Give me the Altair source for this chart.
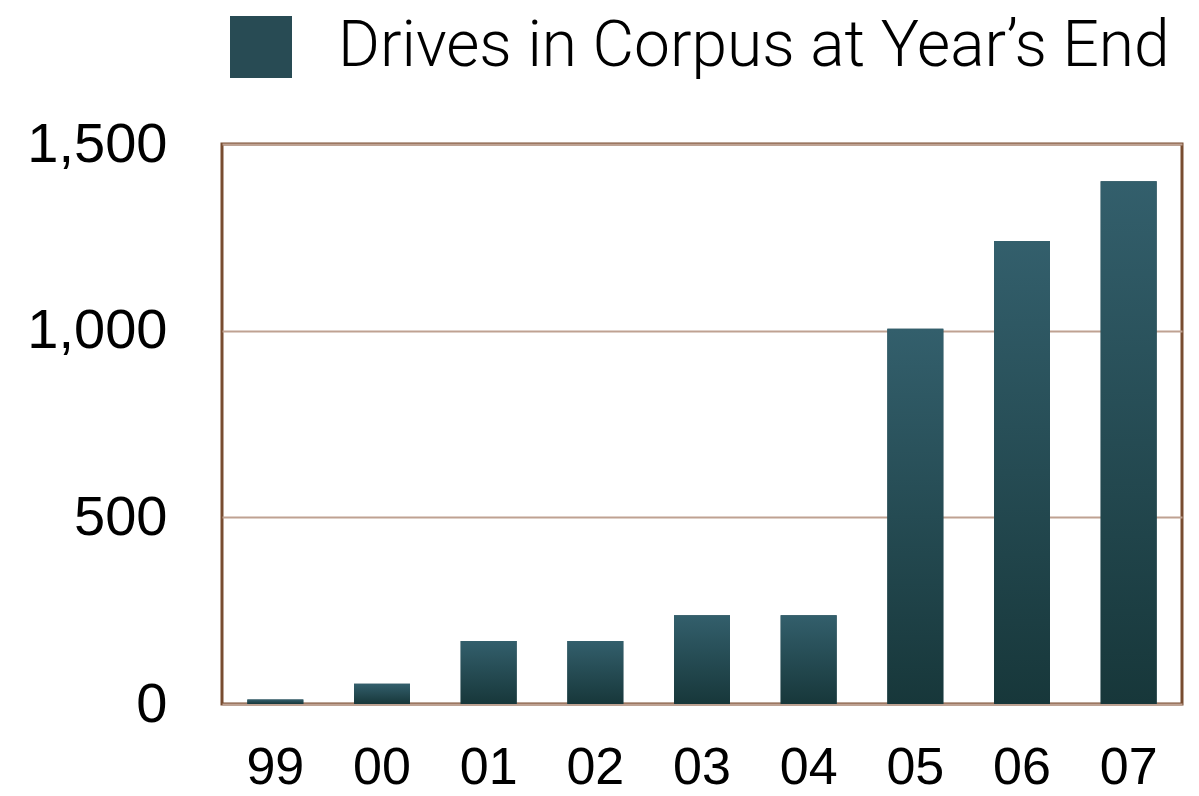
import altair as alt
import pandas as pd

# Year labels (two-digit) and drive counts at each year's end
years = ["99", "00", "01", "02", "03", "04", "05", "06", "07"]
drives = [12, 54, 169, 169, 238, 238, 1005, 1240, 1400]
series_name = "Drives in Corpus at Year\u2019s End"
y_ticks = [0, 500, 1000, 1500]

df = pd.DataFrame({"year": years, "drives": drives})

bar_gradient = alt.LinearGradient(
    gradient="linear",
    stops=[
        alt.GradientStop(color="#335f6c", offset=0),
        alt.GradientStop(color="#17373a", offset=1),
    ],
    x1=0, x2=0, y1=0, y2=1,
)

x_enc = alt.X(
    "year:N",
    sort=years,
    scale=alt.Scale(paddingInner=0.475, paddingOuter=0.2375),
    axis=alt.Axis(
        title=None, labelAngle=0, domain=False, ticks=False,
        labelFont="Liberation Sans", labelFontSize=52, labelColor="#000000",
        labelPadding=38, grid=False,
    ),
)
y_enc = alt.Y(
    "drives:Q",
    scale=alt.Scale(domain=[0, 1500], nice=False),
    axis=alt.Axis(
        title=None, values=y_ticks, format=",d", domain=False, ticks=False,
        labelFont="Liberation Sans", labelFontSize=56, labelColor="#000000",
        labelPadding=55, labelBaseline="middle",
        grid=True, gridColor="#bfa292", gridWidth=1.8,
    ),
)

# Solid bars carry the legend entry
legend_bars = alt.Chart(df).mark_bar().encode(
    x=x_enc,
    y=y_enc,
    color=alt.Color(
        "series:N",
        scale=alt.Scale(domain=[series_name], range=["#284b54"]),
        legend=alt.Legend(
            title=None, orient="none", legendX=7, legendY=-129,
            symbolType="square", symbolSize=3844, symbolStrokeWidth=0,
            symbolOpacity=1,
            labelFont="Roboto", labelFontSize=64, labelFontWeight=300,
            labelColor="#000000", labelOffset=45, labelLimit=0,
        ),
    ),
).transform_calculate(series=f"'{series_name}'")

# Gradient-filled bars drawn over them
gradient_bars = alt.Chart(df).mark_bar(color=bar_gradient).encode(
    x=alt.X("year:N", sort=years),
    y=alt.Y("drives:Q"),
)

chart = (
    alt.layer(legend_bars, gradient_bars)
    .properties(
        width=960,
        height=560,
        autosize=alt.AutoSizeParams(type="none"),
        padding={"left": 222, "top": 144, "right": 17, "bottom": 92},
        background="#ffffff",
    )
    .configure_view(stroke="#784c30", strokeWidth=3)
)

chart.save("out.html", embed_options={"renderer": "svg", "actions": False})
